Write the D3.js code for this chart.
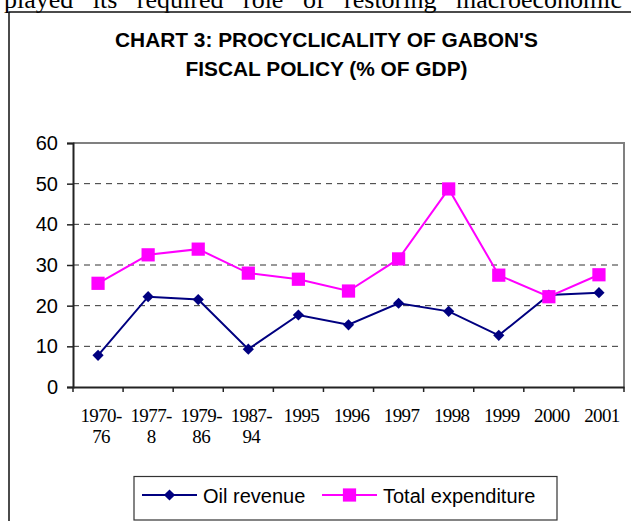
<!DOCTYPE html>
<html>
<head>
<meta charset="utf-8">
<script src="https://cdn.jsdelivr.net/npm/d3@7"></script>
<style>
	body { margin: 0; background: #fff; }
	svg { display: block; }
</style>
</head>
<body>
<div id="chart"></div>
<script>
// DATA
const categories = ["1970-76", "1977-8", "1979-86", "1987-94", "1995", "1996", "1997", "1998", "1999", "2000", "2001"];
const oilRevenue = [7.8, 22.2, 21.5, 9.3, 17.7, 15.3, 20.6, 18.6, 12.7, 22.6, 23.2];
const totalExpenditure = [25.5, 32.5, 33.9, 28.0, 26.5, 23.6, 31.5, 48.7, 27.5, 22.2, 27.6];
const yTicks = [0, 10, 20, 30, 40, 50, 60];
const titleLines = ["CHART 3: PROCYCLICALITY OF GABON'S", "FISCAL POLICY (% OF GDP)"];
const bodyText = "played its required role of restoring macroeconomic";

const series = [
	{ name: "Oil revenue", values: oilRevenue, color: "#000080", marker: "diamond" },
	{ name: "Total expenditure", values: totalExpenditure, color: "#ff00ff", marker: "square" }
];

// SVG DIMENSIONS
const width = 631;
const height = 521;
const plot = { left: 73, right: 624, top: 143, bottom: 387 };

const svg = d3.select("#chart")
	.append("svg")
	.attr("width", width)
	.attr("height", height);

// surrounding document text, cut by the page edge like in the scan
svg.append("text")
	.attr("x", 4)
	.attr("y", 8)
	.attr("font-family", "Liberation Serif, Times New Roman, serif")
	.attr("font-size", 26)
	.attr("word-spacing", 13)
	.text(bodyText);

// chart frame
svg.append("rect")
	.attr("x", 9)
	.attr("y", 12)
	.attr("width", 700)
	.attr("height", 600)
	.attr("fill", "none")
	.attr("stroke", "#111")
	.attr("stroke-width", 1.5);

// TITLE
const titleWidths = [423, 282];
svg.append("g")
	.selectAll("text")
	.data(titleLines)
	.enter()
	.append("text")
		.attr("x", 326.5)
		.attr("y", (d, i) => 47 + i * 29)
		.attr("text-anchor", "middle")
		.attr("font-family", "Liberation Sans, Arial, sans-serif")
		.attr("font-weight", "bold")
		.attr("font-size", 20)
		.attr("textLength", (d, i) => titleWidths[i])
		.attr("lengthAdjust", "spacingAndGlyphs")
		.attr("fill", "#000")
		.text(d => d);

// SCALES
const x = d3.scaleBand()
	.domain(categories)
	.range([plot.left, plot.right])
	.padding(0);
const y = d3.scaleLinear()
	.domain([0, 60])
	.range([plot.bottom, plot.top]);
const cx = d => x(d) + x.bandwidth() / 2;

// gridlines
svg.append("g")
	.selectAll("line")
	.data(yTicks.filter(t => t > 0 && t < 60))
	.enter()
	.append("line")
		.attr("x1", plot.left)
		.attr("x2", plot.right)
		.attr("y1", d => y(d))
		.attr("y2", d => y(d))
		.attr("stroke", "#333")
		.attr("stroke-width", 1)
		.attr("stroke-dasharray", "6,5");

// plot border (top and right)
svg.append("path")
	.attr("d", `M${plot.left},${y(60)}H${plot.right}V${plot.bottom}`)
	.attr("fill", "none")
	.attr("stroke", "#808080")
	.attr("stroke-width", 2);

// Y AXIS
const yAxis = svg.append("g")
	.attr("transform", `translate(${plot.left},0)`)
	.call(d3.axisLeft(y).tickValues(yTicks).tickSize(6).tickPadding(9));
yAxis.select(".domain").attr("stroke", "#222").attr("stroke-width", 2);
yAxis.selectAll(".tick line").attr("stroke", "#222").attr("stroke-width", 1.5);
yAxis.selectAll(".tick text")
	.attr("font-family", "Liberation Sans, Arial, sans-serif")
	.attr("font-size", 20)
	.attr("fill", "#000");

// X AXIS
const xAxis = svg.append("g")
	.attr("transform", `translate(0,${plot.bottom})`)
	.call(d3.axisBottom(x).tickSize(0).tickFormat(""));
xAxis.select(".domain").attr("stroke", "#222").attr("stroke-width", 2);
// tick marks on category boundaries
const bounds = categories.map(c => x(c)).concat([x(categories[categories.length - 1]) + x.bandwidth()]);
xAxis.selectAll(".bound")
	.data(bounds)
	.enter()
	.append("line")
		.attr("class", "bound")
		.attr("x1", d => d)
		.attr("x2", d => d)
		.attr("y1", 0)
		.attr("y2", 5)
		.attr("stroke", "#222")
		.attr("stroke-width", 1.5);
// two line category labels
const xLabels = svg.append("g")
	.selectAll("text")
	.data(categories)
	.enter()
	.append("text")
		.attr("text-anchor", "middle")
		.attr("font-family", "Liberation Serif, Times New Roman, serif")
		.attr("font-size", 19)
		.attr("letter-spacing", -0.6)
		.attr("fill", "#000");
xLabels.each(function(d) {
	const k = d.indexOf("-");
	const lines = k >= 0 ? [d.slice(0, k + 1), d.slice(k + 1)] : [d];
	d3.select(this).selectAll("tspan")
		.data(lines)
		.enter()
		.append("tspan")
			.attr("x", cx(d) + 3)
			.attr("y", (l, i) => plot.bottom + 35 + i * 21)
			.text(l => l);
});

// MARKERS
const diamond = d3.symbol().type(d3.symbolDiamond2).size(80);
const square = d3.symbol().type(d3.symbolSquare).size(175);
const markerPath = m => (m === "diamond" ? diamond() : square());

// LINES
const line = d3.line()
	.x((d, i) => cx(categories[i]))
	.y(d => y(d));

series.forEach(s => {
	const g = svg.append("g");
	g.append("path")
		.datum(s.values)
		.attr("d", line)
		.attr("fill", "none")
		.attr("stroke", s.color)
		.attr("stroke-width", 2);
	g.selectAll(".pt")
		.data(s.values)
		.enter()
		.append("path")
			.attr("class", "pt")
			.attr("transform", (d, i) => `translate(${cx(categories[i])},${y(d)})`)
			.attr("d", markerPath(s.marker))
			.attr("fill", s.color);
});

// LEGEND
const legend = svg.append("g");
legend.append("rect")
	.attr("x", 134)
	.attr("y", 476.5)
	.attr("width", 423)
	.attr("height", 43.5)
	.attr("fill", "#fff")
	.attr("stroke", "#333")
	.attr("stroke-width", 1.2);
const legendX = [142, 322];
series.forEach((s, i) => {
	const lx = legendX[i];
	const ly = 495;
	legend.append("line")
		.attr("x1", lx)
		.attr("x2", lx + 55)
		.attr("y1", ly)
		.attr("y2", ly)
		.attr("stroke", s.color)
		.attr("stroke-width", 2);
	legend.append("path")
		.attr("transform", `translate(${lx + 27.5},${ly})`)
		.attr("d", markerPath(s.marker))
		.attr("fill", s.color);
	legend.append("text")
		.attr("x", lx + 61)
		.attr("y", ly + 7.5)
		.attr("font-family", "Liberation Sans, Arial, sans-serif")
		.attr("font-size", 20)
		.attr("fill", "#000")
		.text(s.name);
});
</script>
</body>
</html>
